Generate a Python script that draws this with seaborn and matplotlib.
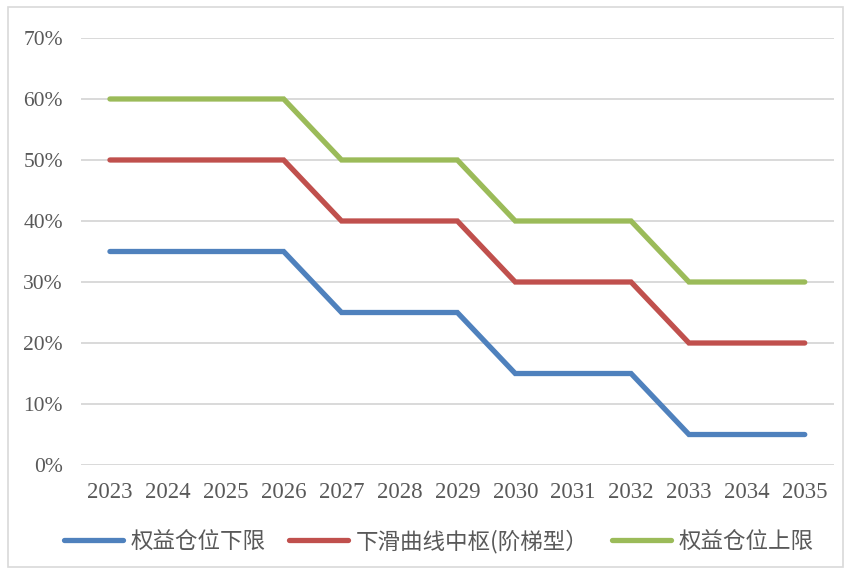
import numpy as np
import pandas as pd
import seaborn as sns
import matplotlib.pyplot as plt
from matplotlib.patches import Rectangle
from matplotlib.ticker import FuncFormatter

# Chart data
years = ['2023', '2024', '2025', '2026', '2027', '2028', '2029',
         '2030', '2031', '2032', '2033', '2034', '2035']
lower = [35, 35, 35, 35, 25, 25, 25, 15, 15, 15, 5, 5, 5]
middle = [50, 50, 50, 50, 40, 40, 40, 30, 30, 30, 20, 20, 20]
upper = [60, 60, 60, 60, 50, 50, 50, 40, 40, 40, 30, 30, 30]
series_names = ['权益仓位下限', '下滑曲线中枢(阶梯型）', '权益仓位上限']
y_ticks = [0, 10, 20, 30, 40, 50, 60, 70]

sns.set_style('white')
plt.rcParams['font.family'] = ['Liberation Serif', 'Noto Sans CJK SC', 'DejaVu Sans']

# Long-form data frame for seaborn
df = pd.DataFrame({
    'year': years * 3,
    'value': lower + middle + upper,
    'series': [series_names[0]] * 13 + [series_names[1]] * 13 + [series_names[2]] * 13,
})

colors = ['#4F81BD', '#C0504D', '#9BBB59']
text_color = '#595959'

fig = plt.figure(figsize=(8.49, 5.71), dpi=100)
ax = fig.add_axes([0.0954, 0.1856, 0.8866, 0.7479])

sns.lineplot(data=df, x='year', y='value', hue='series', palette=colors,
             linewidth=3.8, ax=ax, legend=False, sort=False)
for line in ax.get_lines():
    line.set_solid_capstyle('round')
    line.set_solid_joinstyle('miter')

ax.set_xlim(-0.5, 12.5)
ax.set_ylim(0, 70)
ax.set_yticks(y_ticks)
ax.yaxis.set_major_formatter(FuncFormatter(lambda v, p: f'{int(v)}%'))
ax.grid(axis='y', color='#D9D9D9', linewidth=1.4)
ax.grid(axis='x', visible=False)
ax.set_axisbelow(True)
for s in ax.spines.values():
    s.set_visible(False)
ax.set_xlabel('')
ax.set_ylabel('')
ax.tick_params(axis='y', length=0, pad=13, labelsize=15.5, labelcolor=text_color)
ax.tick_params(axis='x', length=0, pad=12, labelsize=16.5, labelcolor=text_color)

# Legend
handles = [plt.Line2D([], [], color=c, linewidth=3.8, solid_capstyle='round') for c in colors]
leg = fig.legend(handles, series_names, loc='center', bbox_to_anchor=(0.517, 0.052),
                 ncol=3, frameon=False, handlelength=2.6, handletextpad=0.35,
                 columnspacing=1.05, prop={'family': ['Noto Sans CJK SC'], 'size': 16.2})
for t in leg.get_texts():
    t.set_color(text_color)

# Outer border
fig.patches.append(Rectangle((8 / 849, 4 / 571), 835 / 849, 560 / 571,
                             transform=fig.transFigure, fill=False,
                             edgecolor='#D9D9D9', linewidth=1.2))

fig.savefig('out.png', dpi=100)
